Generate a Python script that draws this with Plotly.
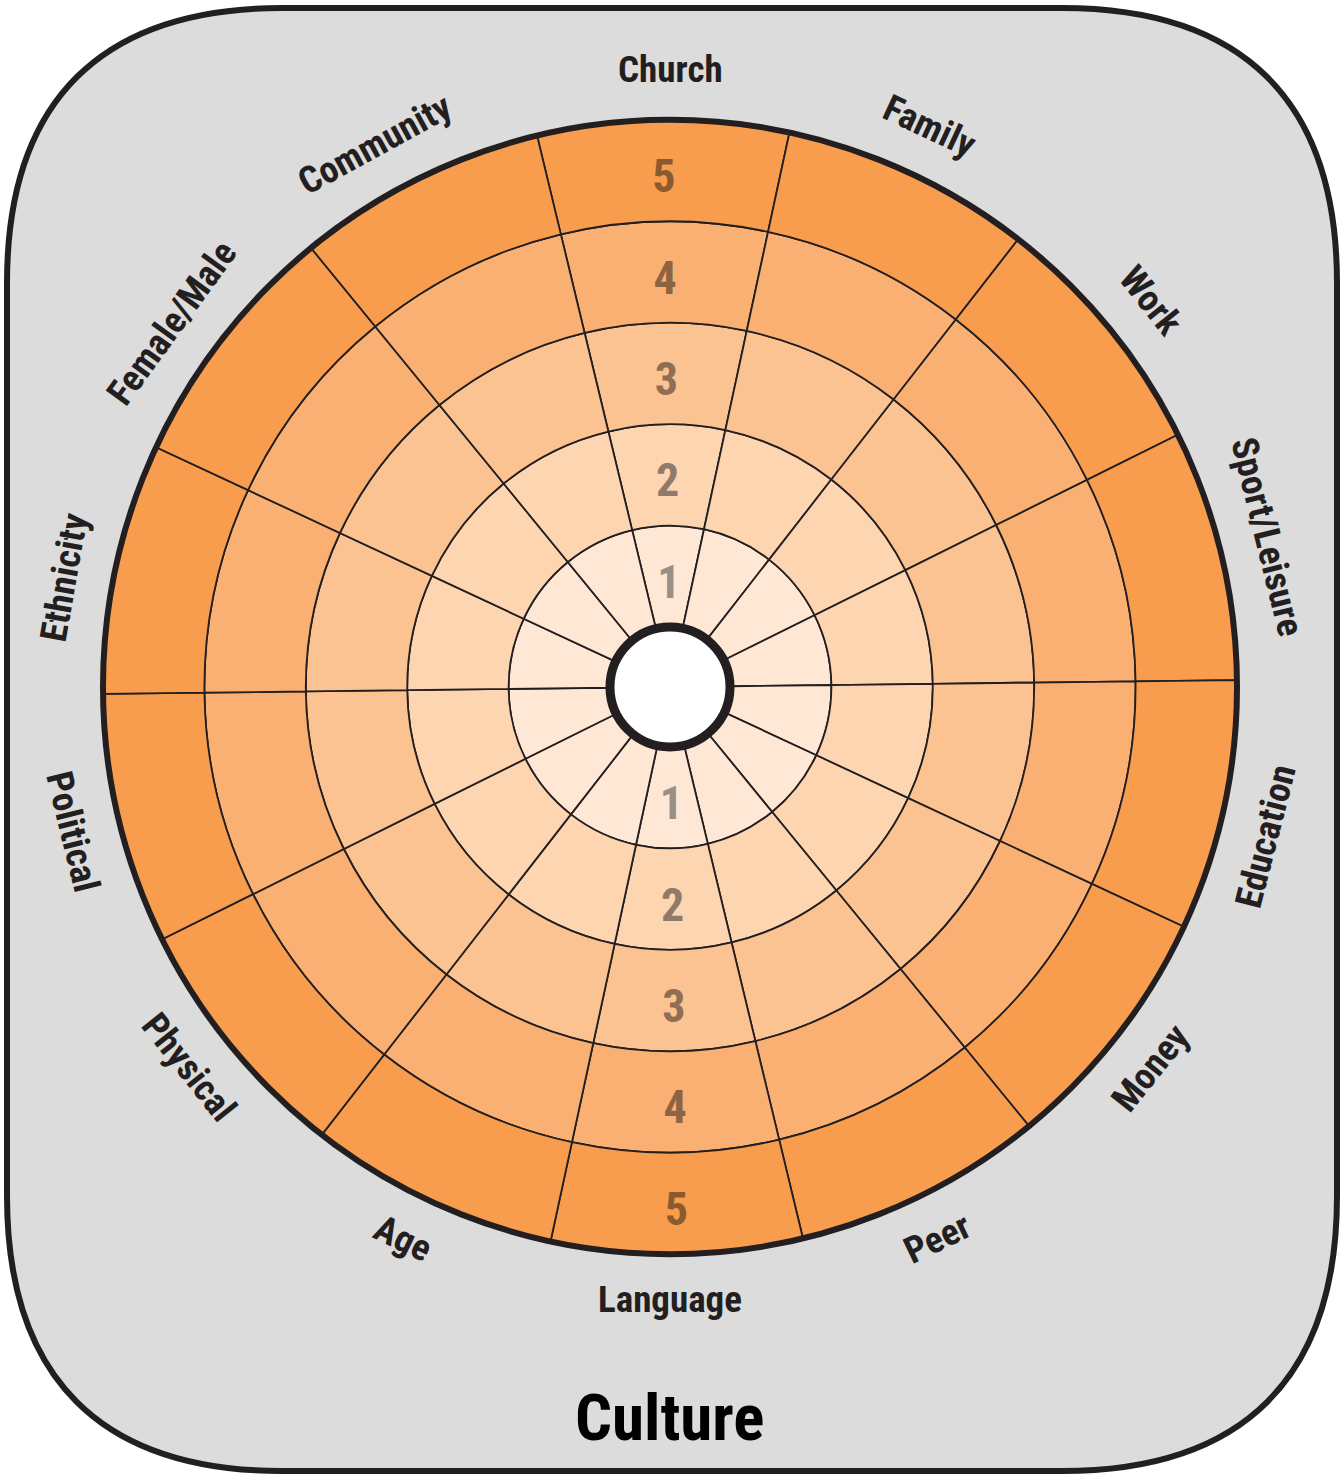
import math
import plotly.graph_objects as go

# ---------------- data ----------------
categories = ["Church", "Family", "Work", "Sport/Leisure", "Education", "Money", "Peer",
              "Language", "Age", "Physical", "Political", "Ethnicity", "Female/Male", "Community"]
levels = [1, 2, 3, 4, 5]
level_labels = ["1", "2", "3", "4", "5"]
ring_colors = ["#fee7d5", "#fdd5b1", "#fbc391", "#f9b072", "#f89d4e"]
number_colors = ["#9a8f87", "#917a69", "#8f6e55", "#8d6443", "#8b5a2e"]
numbered_categories = ["Church", "Language"]
title_text = "Culture"

# ---------------- geometry / styling (pixels) ----------------
W, H = 1341, 1477
CX, CY, RAD = 670, 687, 567
HOLE = 60
LABEL_R = 615
NUM_DROP = 10  # visual downward nudge of the level numbers, px
# small angular nudges (deg) of some outer labels, as placed in the original artwork
label_nudge = {"Sport/Leisure": -1.0, "Education": 1.5, "Political": -1.0,
               "Ethnicity": -2.8, "Female/Male": -2.6, "Community": -3.0, "Family": -0.7}
FONT = "Liberation Sans Narrow, Arial Narrow, Roboto Condensed, Liberation Sans, sans-serif"
INK = "#231f20"
ROT = 0.7


def px(x):
    return x / W


def py(y):
    return 1 - y / H


fig = go.Figure()

# rings (stacked bars, one trace per level)
for lev, col in zip(levels, ring_colors):
    fig.add_trace(go.Barpolar(
        r=[1] * len(categories),
        theta=categories,
        marker=dict(color=col, line=dict(color=INK, width=1.8)),
        name=str(lev),
        hoverinfo="skip",
    ))

# level numbers in the Church and Language segments
ring_px = (RAD - HOLE) / len(levels)
for cat in numbered_categories:
    ang = math.radians(categories.index(cat) * 360 / len(categories))
    fig.add_trace(go.Scatterpolar(
        r=[lev - 0.5 - (NUM_DROP / ring_px) * math.cos(ang) for lev in levels],
        theta=[cat] * len(levels),
        mode="text",
        text=level_labels,
        textfont=dict(family=FONT, size=46, color=number_colors, weight="bold"),
        textposition="middle center",
        hoverinfo="skip",
        cliponaxis=False,
    ))

fig.update_layout(
    width=W, height=H,
    margin=dict(l=0, r=0, t=0, b=0, pad=0),
    paper_bgcolor="white",
    showlegend=False,
    polar=dict(
        domain=dict(x=[px(CX - RAD), px(CX + RAD)], y=[py(CY + RAD), py(CY - RAD)]),
        bgcolor="rgba(0,0,0,0)",
        hole=HOLE / RAD,
        bargap=0,
        barmode="stack",
        radialaxis=dict(range=[0, len(levels)], showgrid=False, showline=False,
                        showticklabels=False, ticks=""),
        angularaxis=dict(type="category", categoryarray=categories, direction="clockwise",
                         rotation=90 + ROT, showgrid=False, showticklabels=False, ticks="",
                         showline=True, linecolor=INK, linewidth=6),
    ),
)

# rounded background panel
L, T, R, B = 7, 8, 1337, 1471
rc, k = 275, 0.66
kr = k * rc


def P(x, y):
    return f"{px(x):.6f},{py(y):.6f}"


path = (f"M {P(L + rc, T)} L {P(R - rc, T)} "
        f"C {P(R - rc + kr, T)} {P(R, T + rc - kr)} {P(R, T + rc)} "
        f"L {P(R, B - rc)} "
        f"C {P(R, B - rc + kr)} {P(R - rc + kr, B)} {P(R - rc, B)} "
        f"L {P(L + rc, B)} "
        f"C {P(L + rc - kr, B)} {P(L, B - rc + kr)} {P(L, B - rc)} "
        f"L {P(L, T + rc)} "
        f"C {P(L, T + rc - kr)} {P(L + rc - kr, T)} {P(L + rc, T)} Z")
fig.add_shape(type="path", path=path, xref="paper", yref="paper",
              fillcolor="#dcdcdc", line=dict(color=INK, width=6), layer="below")

# centre hole
fig.add_shape(type="circle", xref="paper", yref="paper",
              x0=px(CX - HOLE), x1=px(CX + HOLE), y0=py(CY + HOLE), y1=py(CY - HOLE),
              fillcolor="white", line=dict(color=INK, width=9), layer="above")

# category labels, tangential
n = len(categories)
for i, cat in enumerate(categories):
    ang = i * 360 / n + label_nudge.get(cat, 0.0)
    a = math.radians(ang)
    x = CX + LABEL_R * math.sin(a)
    y = CY - LABEL_R * math.cos(a) - 3
    if 90 < ang < 270:
        rot = ang - 180
    elif ang >= 270:
        rot = ang - 360
    else:
        rot = ang
    fig.add_annotation(x=px(x), y=py(y), xref="paper", yref="paper", text=cat,
                       showarrow=False, textangle=rot, xanchor="center", yanchor="middle",
                       font=dict(family=FONT, size=37, color=INK, weight="bold"))

# title
fig.add_annotation(x=px(669), y=py(1418), xref="paper", yref="paper", text=title_text,
                   showarrow=False, xanchor="center", yanchor="middle",
                   font=dict(family=FONT, size=65, color="black", weight="bold"))

fig.write_html("out.html", config={"displayModeBar": False},
               post_script="document.body.style.margin='0';")
